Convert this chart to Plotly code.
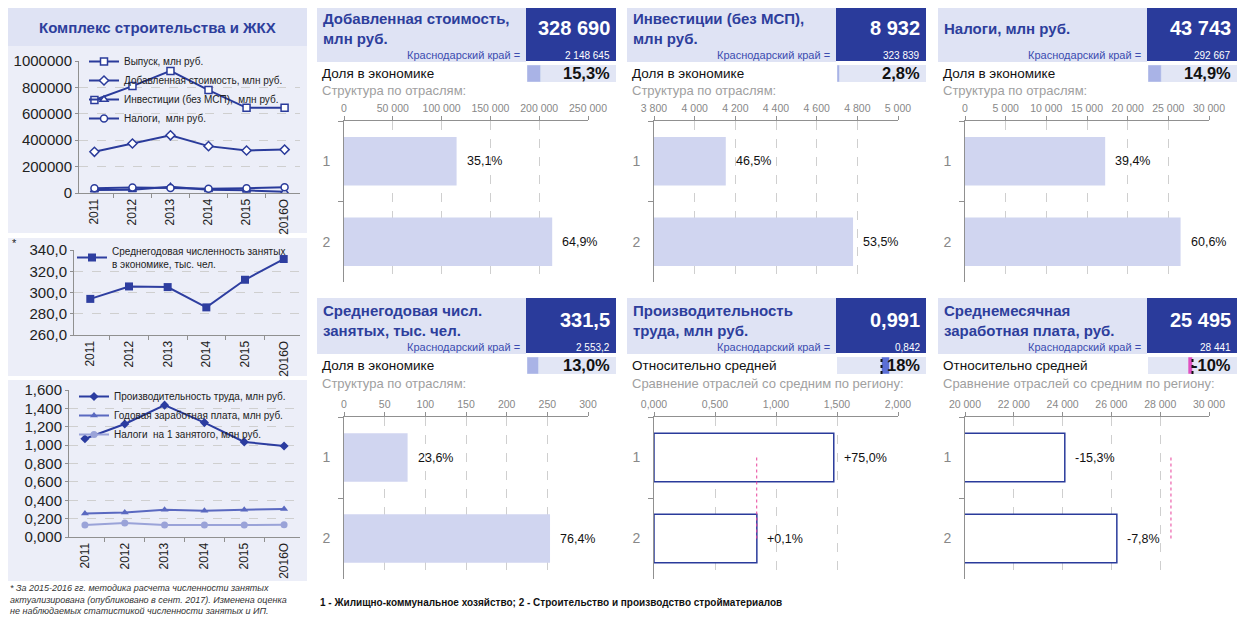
import plotly.graph_objects as go

# the page puts the plot 8px in from the top-left corner, so the figure is 8px
# smaller and every pixel position below is given in window coordinates
OFF = 8
W, H = 1248 - OFF, 618 - OFF
FONT = "Liberation Sans, Arial, sans-serif"

# ---- left panel: dynamics 2011-2016
years = ['2011', '2012', '2013', '2014', '2015', '2016О']
vypusk = [705000, 810000, 925000, 780000, 645000, 645000]
dobavl = [312000, 375000, 437000, 355000, 322000, 328690]
invest = [22000, 25000, 48000, 25000, 20000, 8932]
nalogi = [36000, 41000, 38000, 33000, 36000, 43743]
zanyatye = [294.0, 305.7, 305.1, 286.0, 312.0, 331.5]
proizv = [1.070, 1.230, 1.435, 1.245, 1.035, 0.991]
zarplata_god = [0.257, 0.267, 0.296, 0.286, 0.296, 0.306]
nalogi_na_1 = [0.131, 0.152, 0.131, 0.131, 0.131, 0.132]

# ---- right panels
otrasli = ['1', '2']
titles = ['Добавленная стоимость,<br>млн руб.', 'Инвестиции (без МСП),<br>млн руб.',
          'Налоги, млн руб.', 'Среднегодовая числ.<br>занятых, тыс. чел.',
          'Производительность<br>труда, млн руб.', 'Среднемесячная<br>заработная плата, руб.']
values = ['328 690', '8 932', '43 743', '331,5', '0,991', '25 495']
region_values = ['2 148 645', '323 839', '292 667', '2 553,2', '0,842', '28 441']
share_labels = ['Доля в экономике'] * 4 + ['Относительно средней'] * 2
shares = [0.153, 0.028, 0.149, 0.130, 0.18, -0.10]
share_texts = ['15,3%', '2,8%', '14,9%', '13,0%', '18%', '-10%']
sub_titles = ['Структура по отраслям:'] * 4 + ['Сравнение отраслей со средним по региону:'] * 2
bar_vals = [[115370, 213320], [4153, 4779], [17235, 26508],
            [78.2, 253.3], [1.4735, 0.843], [24090, 26223]]
bar_texts = [['35,1%', '64,9%'], ['46,5%', '53,5%'], ['39,4%', '60,6%'],
             ['23,6%', '76,4%'], ['+75,0%', '+0,1%'], ['-15,3%', '-7,8%']]
region_avg = [None, None, None, None, 0.842, 28441]

# axis settings for the six bar panels
bar_ranges = [[0, 250000], [3800, 5000], [0, 30000], [0, 300], [0, 2], [20000, 30000]]
bar_dticks = [50000, 200, 5000, 50, 0.5, 2000]
bar_formats = [',d', ',d', ',d', ',d', '.3f', ',d']

NAVY = '#2a3b9b'
TITLE_BLUE = '#2d3e9c'
LIGHT_BOX = '#dfe3f4'
PANEL_BG = '#eceef8'
BAR_FILL = '#d0d5f0'
GRID = '#cfcfcf'
AXIS = '#909090'


def px(x):
    return (x - OFF) / W


def py(y):
    return 1 - (y - OFF) / H


def ax_name(n, kind):
    return kind + ('' if n == 1 else str(n))


fig = go.Figure()
shapes = []
annotations = []
layout = {}


def rect(x0, y0, x1, y1, color):
    shapes.append(dict(type='rect', xref='paper', yref='paper', x0=px(x0), x1=px(x1),
                       y0=py(y1), y1=py(y0), fillcolor=color, line=dict(width=0), layer='below'))


def text(x, y, s, size, color='#222', anchor='left', bold=False, **kw):
    if bold:
        s = '<b>' + s + '</b>'
    annotations.append(dict(x=px(x), y=py(y), xref='paper', yref='paper', text=s, showarrow=False,
                            xanchor=anchor, yanchor='middle', align=anchor if anchor != 'middle' else 'center',
                            font=dict(size=size, color=color, family=FONT), **kw))


# ---------------- left panel
rect(7, 6, 307, 46, LIGHT_BOX)
rect(7, 46, 307, 233, PANEL_BG)
rect(7, 238, 307, 376, PANEL_BG)
rect(7, 380, 307, 581, PANEL_BG)
text(157, 27, 'Комплекс строительства и ЖКХ', 15, TITLE_BLUE, 'center', bold=True)
text(10, 243, '*', 11, '#222')

left_domains = [([79, 300], [193, 61]), ([74, 300], [335, 250]), ([69, 300], [537, 390])]
left_y = [dict(range=[0, 1000000], dtick=200000, tickformat='d'),
          dict(range=[260, 340], dtick=20, tickformat='.1f'),
          dict(range=[0, 1.6], dtick=0.2, tickformat='.3f')]
for k, ((xd, yd), ycfg) in enumerate(zip(left_domains, left_y)):
    n = k + 1
    layout[ax_name(n, 'xaxis')] = dict(
        domain=[px(xd[0]), px(xd[1])], anchor=ax_name(n, 'y'), type='category', automargin=False,
        showline=True, linecolor=AXIS, ticks='outside', tickson='boundaries', ticklen=4,
        tickcolor=AXIS, tickangle=-90, tickfont=dict(size=12, color='#222', family=FONT),
        showgrid=False, fixedrange=True)
    layout[ax_name(n, 'yaxis')] = dict(
        domain=[py(yd[0]), py(yd[1])], anchor=ax_name(n, 'x'), showline=True, linecolor=AXIS,
        automargin=False, ticks='outside', ticklen=3, tickcolor=AXIS, showgrid=True,
        gridcolor=GRID, griddash='dash', zeroline=False,
        tickfont=dict(size=15, color='#222', family=FONT), fixedrange=True, **ycfg)

open_marker = dict(size=7, color='white', line=dict(color=NAVY, width=1.5))
for name, vals, sym in [('Выпуск, млн руб.', vypusk, 'square'),
                        ('Добавленная стоимость, млн руб.', dobavl, 'diamond'),
                        ('Инвестиции (без МСП),  млн руб.', invest, 'triangle-up'),
                        ('Налоги,  млн руб.', nalogi, 'circle')]:
    fig.add_trace(go.Scatter(x=years, y=vals, name=name, mode='lines+markers',
                             line=dict(color=NAVY, width=2), marker=dict(symbol=sym, **open_marker),
                             xaxis='x', yaxis='y', legend='legend'))

fig.add_trace(go.Scatter(x=years, y=zanyatye, name='Среднегодовая численность занятых<br>в экономике, тыс. чел.',
                         mode='lines+markers', line=dict(color='#2e3ea0', width=2),
                         marker=dict(symbol='square', size=8, color='#2e3ea0'),
                         xaxis='x2', yaxis='y2', legend='legend2'))

for name, vals, sym, col in [('Производительность труда, млн руб.', proizv, 'diamond', '#2b3ca0'),
                             ('Годовая заработная плата, млн руб.', zarplata_god, 'triangle-up', '#5a69c0'),
                             ('Налоги  на 1 занятого, млн руб.', nalogi_na_1, 'circle', '#9aa3d8')]:
    fig.add_trace(go.Scatter(x=years, y=vals, name=name, mode='lines+markers',
                             line=dict(color=col, width=2), marker=dict(symbol=sym, size=7, color=col),
                             xaxis='x3', yaxis='y3', legend='legend3'))

legend_style = dict(xanchor='left', yanchor='top', bgcolor='rgba(0,0,0,0)', tracegroupgap=0,
                    font=dict(size=10, color='#222', family=FONT), itemclick=False)
layout['legend'] = dict(x=px(84), y=py(47), **legend_style)
layout['legend2'] = dict(x=px(72), y=py(238), **legend_style)
layout['legend3'] = dict(x=px(74), y=py(382), **legend_style)

text(8, 599, '<i>* За 2015-2016 гг. методика расчета численности занятых<br>'
             'актуализирована (опубликовано в сент. 2017). Изменена оценка<br>'
             'не наблюдаемых статистикой численности занятых и ИП.</i>', 9, '#333')

# ---------------- right panels
cols_x = [317, 627, 938]
rows_top = [6, 298]
plot_y = [[282, 121], [579, 417]]

for i in range(6):
    col, row = i % 3, i // 3
    x0, top = cols_x[col], rows_top[row]
    rect(x0, top, x0 + 209, top + 56, LIGHT_BOX)
    rect(x0 + 209, top, x0 + 299, top + 55, NAVY)
    rect(x0 + 210, top + 59, x0 + 299, top + 76, '#e2e6f5')
    text(x0 + 4, top + 22, titles[i], 15, TITLE_BLUE, bold=True)
    text(x0 + 295, top + 22, values[i], 20, 'white', 'right', bold=True)
    text(x0 + 205, top + 49, 'Краснодарский край =', 11, '#3b4cb0', 'right')
    text(x0 + 295, top + 49, region_values[i], 10, 'white', 'right')
    text(x0 + 3, top + 67, share_labels[i], 13.5, '#111')
    text(x0 + 295, top + 67, share_texts[i], 16.5, '#111', 'right', bold=True)
    text(x0 + 3, top + 85, sub_titles[i], 13, '#a0a0a0')

    # main bar chart
    n = 4 + i
    xa, ya = ax_name(n, 'x'), ax_name(n, 'y')
    yd = plot_y[row]
    layout[ax_name(n, 'xaxis')] = dict(
        domain=[px(x0 + 27), px(x0 + 271)], anchor=ya, side='top', range=bar_ranges[i],
        dtick=bar_dticks[i], tick0=bar_ranges[i][0], tickformat=bar_formats[i], showline=True,
        automargin=False, linecolor=AXIS, ticks='outside', ticklen=4, tickcolor=AXIS,
        showgrid=True, gridcolor=GRID, griddash='dash', zeroline=False,
        tickfont=dict(size=10.5, color='#888', family=FONT), fixedrange=True)
    layout[ax_name(n, 'yaxis')] = dict(
        domain=[py(yd[0]), py(yd[1])], anchor=xa, type='category', categoryorder='array',
        categoryarray=otrasli, range=[1.5, -0.5], autorange=False, automargin=False,
        showline=True, linecolor=AXIS, ticks='outside', tickson='boundaries', ticklen=5,
        tickcolor=AXIS, showgrid=False, tickfont=dict(size=14, color='#888', family=FONT),
        ticklabelstandoff=10, fixedrange=True)
    if region_avg[i] is None:
        bar_marker = dict(color=BAR_FILL, line=dict(width=0))
    else:
        bar_marker = dict(color='white', line=dict(color=NAVY, width=1.5))
    fig.add_trace(go.Bar(x=bar_vals[i], y=otrasli, orientation='h', width=0.6, marker=bar_marker,
                         xaxis=xa, yaxis=ya, showlegend=False, hoverinfo='x'))
    if region_avg[i] is not None:
        fig.add_trace(go.Scatter(x=[region_avg[i]] * 2, y=otrasli, mode='lines',
                                 line=dict(color='#e8409a', width=1, dash='dot'),
                                 xaxis=xa, yaxis=ya, showlegend=False, hoverinfo='skip'))
    for j, (v, t) in enumerate(zip(bar_vals[i], bar_texts[i])):
        # category axis: annotation y is the category index
        annotations.append(dict(x=v, y=j, xref=xa, yref=ya, text=t, showarrow=False,
                                xanchor='left', yanchor='middle', xshift=8,
                                font=dict(size=12.5, color='#111', family=FONT)))

    # mini share / relative bar
    m = 10 + i
    mx, my = ax_name(m, 'x'), ax_name(m, 'y')
    rel = region_avg[i] is not None
    layout[ax_name(m, 'xaxis')] = dict(domain=[px(x0 + 210), px(x0 + 299)], anchor=my, automargin=False,
                                       range=[-1, 1] if rel else [0, 1], visible=False, fixedrange=True)
    layout[ax_name(m, 'yaxis')] = dict(domain=[py(top + 76), py(top + 59)], anchor=mx, automargin=False,
                                       range=[-0.5, 0.5], visible=False, fixedrange=True)
    if rel:
        mini_col = '#5b6fd6' if shares[i] >= 0 else '#e050c0'
    else:
        mini_col = '#a9b3e6'
    fig.add_trace(go.Bar(x=[shares[i]], y=[0], orientation='h', width=1, marker=dict(color=mini_col),
                         xaxis=mx, yaxis=my, showlegend=False, hoverinfo='skip'))
    if rel:
        shapes.append(dict(type='line', xref=mx, yref=my + ' domain', x0=0, x1=0, y0=0, y1=1,
                           line=dict(color='#111', width=2, dash='dot')))

text(318, 602, '<b>1 - Жилищно-коммунальное хозяйство; 2 - Строительство и производство стройматериалов</b>',
     10, '#111')

fig.update_layout(width=W, height=H, margin=dict(l=0, r=0, t=0, b=0, autoexpand=False), autosize=False,
                  paper_bgcolor='white', plot_bgcolor='rgba(0,0,0,0)', separators=', ',
                  font=dict(family=FONT), shapes=shapes, annotations=annotations, **layout)

fig.write_html("out.html")
